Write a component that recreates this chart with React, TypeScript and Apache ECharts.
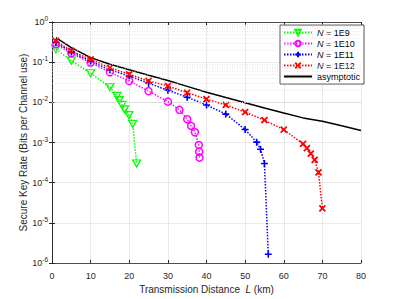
import React, { useEffect, useRef } from "react";
import * as echarts from "echarts";

const xTicks = [0, 10, 20, 30, 40, 50, 60, 70, 80];
const legendNames = ["N = 1E9", "N = 1E10", "N = 1E11", "N = 1E12", "asymptotic"];

const n9X = [1, 5, 10, 15, 16.8, 17.4, 18.1, 18.8, 19.9, 20.9, 21.9];
const n9Y = [0.21, 0.109, 0.053, 0.024, 0.0144, 0.0114, 0.0086, 0.0067, 0.0048, 0.0029, 3.0e-4];

const n10X = [1, 5, 10, 15, 20, 25, 30, 33, 35, 36, 37, 38, 38.1, 38.2];
const n10Y = [0.28, 0.166, 0.097, 0.056, 0.034, 0.019, 0.0104, 0.0065, 0.0038, 0.0026, 0.0018, 8.7e-4, 5.9e-4, 4.2e-4];

const n11X = [1, 5, 10, 15, 20, 25, 30, 35, 40, 45, 50, 53, 54, 55, 56];
const n11Y = [0.31, 0.18, 0.105, 0.065, 0.045, 0.03, 0.02, 0.0134, 0.0086, 0.0051, 0.0021, 0.00102, 6.8e-4, 3.0e-4, 1.65e-6];

const n12X = [1, 5, 10, 15, 20, 25, 30, 35, 40, 45, 50, 55, 60, 65, 66, 67, 68, 69, 70];
const n12Y = [0.34, 0.19, 0.117, 0.073, 0.05, 0.034, 0.0256, 0.0174, 0.012, 0.0086, 0.0057, 0.0036, 0.0021, 9.2e-4, 7.2e-4, 5.3e-4, 3.7e-4, 1.8e-4, 2.3e-5];

const asymX = [1, 5, 10, 15, 20, 25, 30, 35, 40, 45, 50, 55, 60, 65, 70, 75, 80];
const asymY = [0.41, 0.23, 0.13, 0.089, 0.065, 0.047, 0.035, 0.025, 0.0178, 0.0132, 0.0098, 0.0072, 0.0054, 0.0041, 0.0034, 0.0026, 0.002];

const decades = [-6, -5, -4, -3, -2, -1, 0];
const minorMultipliers = [2, 3, 4, 5, 6, 7, 8, 9];

const FONT = "Liberation Sans, Arial, Helvetica, sans-serif";
const AX = "#262626";

function zip(xs: number[], ys: number[]) {
  return xs.map((x, i) => [x, ys[i]]);
}

export default function App() {
  const ref = useRef<HTMLDivElement>(null);
  useEffect(() => {
    if (!ref.current) return;
    const chart = echarts.init(ref.current, undefined, { renderer: "svg" });

    const minorLines: any[] = [];
    decades.slice(0, -1).forEach((d) => {
      minorMultipliers.forEach((m) => minorLines.push({ yAxis: m * Math.pow(10, d) }));
    });

    const hollowTri = "path://M0,0 L10,0 L5,8.66 Z";
    const plus = "path://M5,0 L5,10 M0,5 L10,5";
    const cross = "path://M0,0 L10,10 M10,0 L0,10";

    const dotted = (c: string) => ({ color: c, width: 1.5, type: [1.5, 1.5] as any });

    const option: any = {
      animation: false,
      textStyle: { fontFamily: FONT },
      grid: { left: 52, right: 38, top: 22, bottom: 36, containLabel: false },
      legend: {
        data: legendNames.map((n) =>
          n === "asymptotic" ? { name: n, itemStyle: { opacity: 0 } } : { name: n }
        ),
        orient: "vertical",
        left: 280,
        top: 25,
        backgroundColor: "#ffffff",
        borderColor: AX,
        borderWidth: 0.8,
        borderRadius: 0,
        padding: [3, 4, 3, 3],
        itemWidth: 28,
        itemHeight: 7,
        itemGap: 2,
        textStyle: {
          fontSize: 9,
          lineHeight: 9,
          color: "#000",
          fontFamily: FONT,
          rich: { i: { fontStyle: "italic", fontSize: 9, lineHeight: 9, fontFamily: FONT } },
        },
        formatter: (name: string) =>
          name.startsWith("N ") ? "{i|N}" + name.slice(1) : name,
      },
      xAxis: [
        {
          type: "value",
          min: 0,
          max: 80,
          interval: 10,
          name: "Transmission Distance  {i|L} (km)",
          nameLocation: "middle",
          nameGap: 21,
          nameMoveOverlap: false,
          nameTextStyle: {
            fontSize: 10,
            color: AX,
            fontFamily: FONT,
            rich: { i: { fontStyle: "italic", fontSize: 10, color: AX, fontFamily: FONT } },
          },
          axisLine: { show: true, lineStyle: { color: AX, width: 0.8 } },
          axisTick: { show: true, inside: true, length: 3, lineStyle: { color: AX } },
          axisLabel: { fontSize: 9, color: AX, margin: 8, fontFamily: FONT },
          splitLine: { show: true, lineStyle: { color: "#e3e3e3", width: 0.8 } },
        },
        {
          type: "value",
          position: "top",
          min: 0,
          max: 80,
          interval: 10,
          axisLine: { show: true, lineStyle: { color: AX, width: 0.8 } },
          axisTick: { show: true, inside: true, length: 3, lineStyle: { color: AX } },
          axisLabel: { show: false },
          splitLine: { show: false },
        },
      ],
      yAxis: [
        {
          type: "log",
          logBase: 10,
          min: 1e-6,
          max: 1,
          name: "Secure Key Rate (Bits per Channel use)",
          nameLocation: "middle",
          nameGap: 24,
          nameMoveOverlap: false,
          nameTextStyle: { fontSize: 10, color: AX, fontFamily: FONT },
          axisLine: { show: true, lineStyle: { color: AX, width: 0.8 } },
          axisTick: { show: true, inside: true, length: 3, lineStyle: { color: AX } },
          axisLabel: {
            color: AX,
            margin: 4,
            formatter: (v: number) => {
              const e = Math.round(Math.log10(v));
              return "{b|10}{s|" + e + "}";
            },
            rich: {
              b: { fontSize: 9, color: AX, fontFamily: FONT },
              s: { fontSize: 6.5, color: AX, fontFamily: FONT, padding: [0, 0, 7, 0] },
            },
          },
          splitLine: { show: true, lineStyle: { color: "#e3e3e3", width: 0.8 } },
        },
        {
          type: "log",
          logBase: 10,
          min: 1e-6,
          max: 1,
          position: "right",
          axisLine: { show: true, lineStyle: { color: AX, width: 0.8 } },
          axisTick: { show: true, inside: true, length: 3, lineStyle: { color: AX } },
          axisLabel: { show: false },
          splitLine: { show: false },
        },
      ],
      series: [
        {
          name: "minor",
          type: "line",
          data: [],
          z: 0,
          silent: true,
          markLine: {
            silent: true,
            symbol: ["none", "none"],
            label: { show: false },
            lineStyle: { color: "#d6d6d6", width: 0.6, type: [1, 1.5] },
            emphasis: { disabled: true },
            data: minorLines,
          },
        },
        {
          name: legendNames[0],
          type: "line",
          data: zip(n9X, n9Y),
          symbol: hollowTri,
          symbolSize: [8, 7],
          lineStyle: dotted("#00ff00"),
          itemStyle: { color: "rgba(0,0,0,0)", borderColor: "#00ff00", borderWidth: 1.3 },
          z: 3,
        },
        {
          name: legendNames[1],
          type: "line",
          data: zip(n10X, n10Y),
          symbol: "circle",
          symbolSize: 7,
          lineStyle: dotted("#ff00ff"),
          itemStyle: { color: "rgba(0,0,0,0)", borderColor: "#ff00ff", borderWidth: 1.5 },
          z: 3,
        },
        {
          name: legendNames[2],
          type: "line",
          data: zip(n11X, n11Y),
          symbol: plus,
          symbolSize: 7,
          lineStyle: dotted("#0000ff"),
          itemStyle: { color: "#0000ff", borderColor: "#0000ff", borderWidth: 1.6 },
          z: 3,
        },
        {
          name: legendNames[3],
          type: "line",
          data: zip(n12X, n12Y),
          symbol: cross,
          symbolSize: 6,
          lineStyle: dotted("#ff0000"),
          itemStyle: { color: "#ff0000", borderColor: "#ff0000", borderWidth: 1.8 },
          z: 3,
        },
        {
          name: legendNames[4],
          type: "line",
          data: zip(asymX, asymY),
          symbol: "none",
          showSymbol: false,
          lineStyle: { color: "#000000", width: 1.5 },
          itemStyle: { color: "#000000" },
          z: 2,
        },
      ],
    };
    chart.setOption(option);
    return () => chart.dispose();
  }, []);
  return <div ref={ref} style={{ width: 399, height: 299, position: "absolute", left: 0, top: 0 }} />;
}
